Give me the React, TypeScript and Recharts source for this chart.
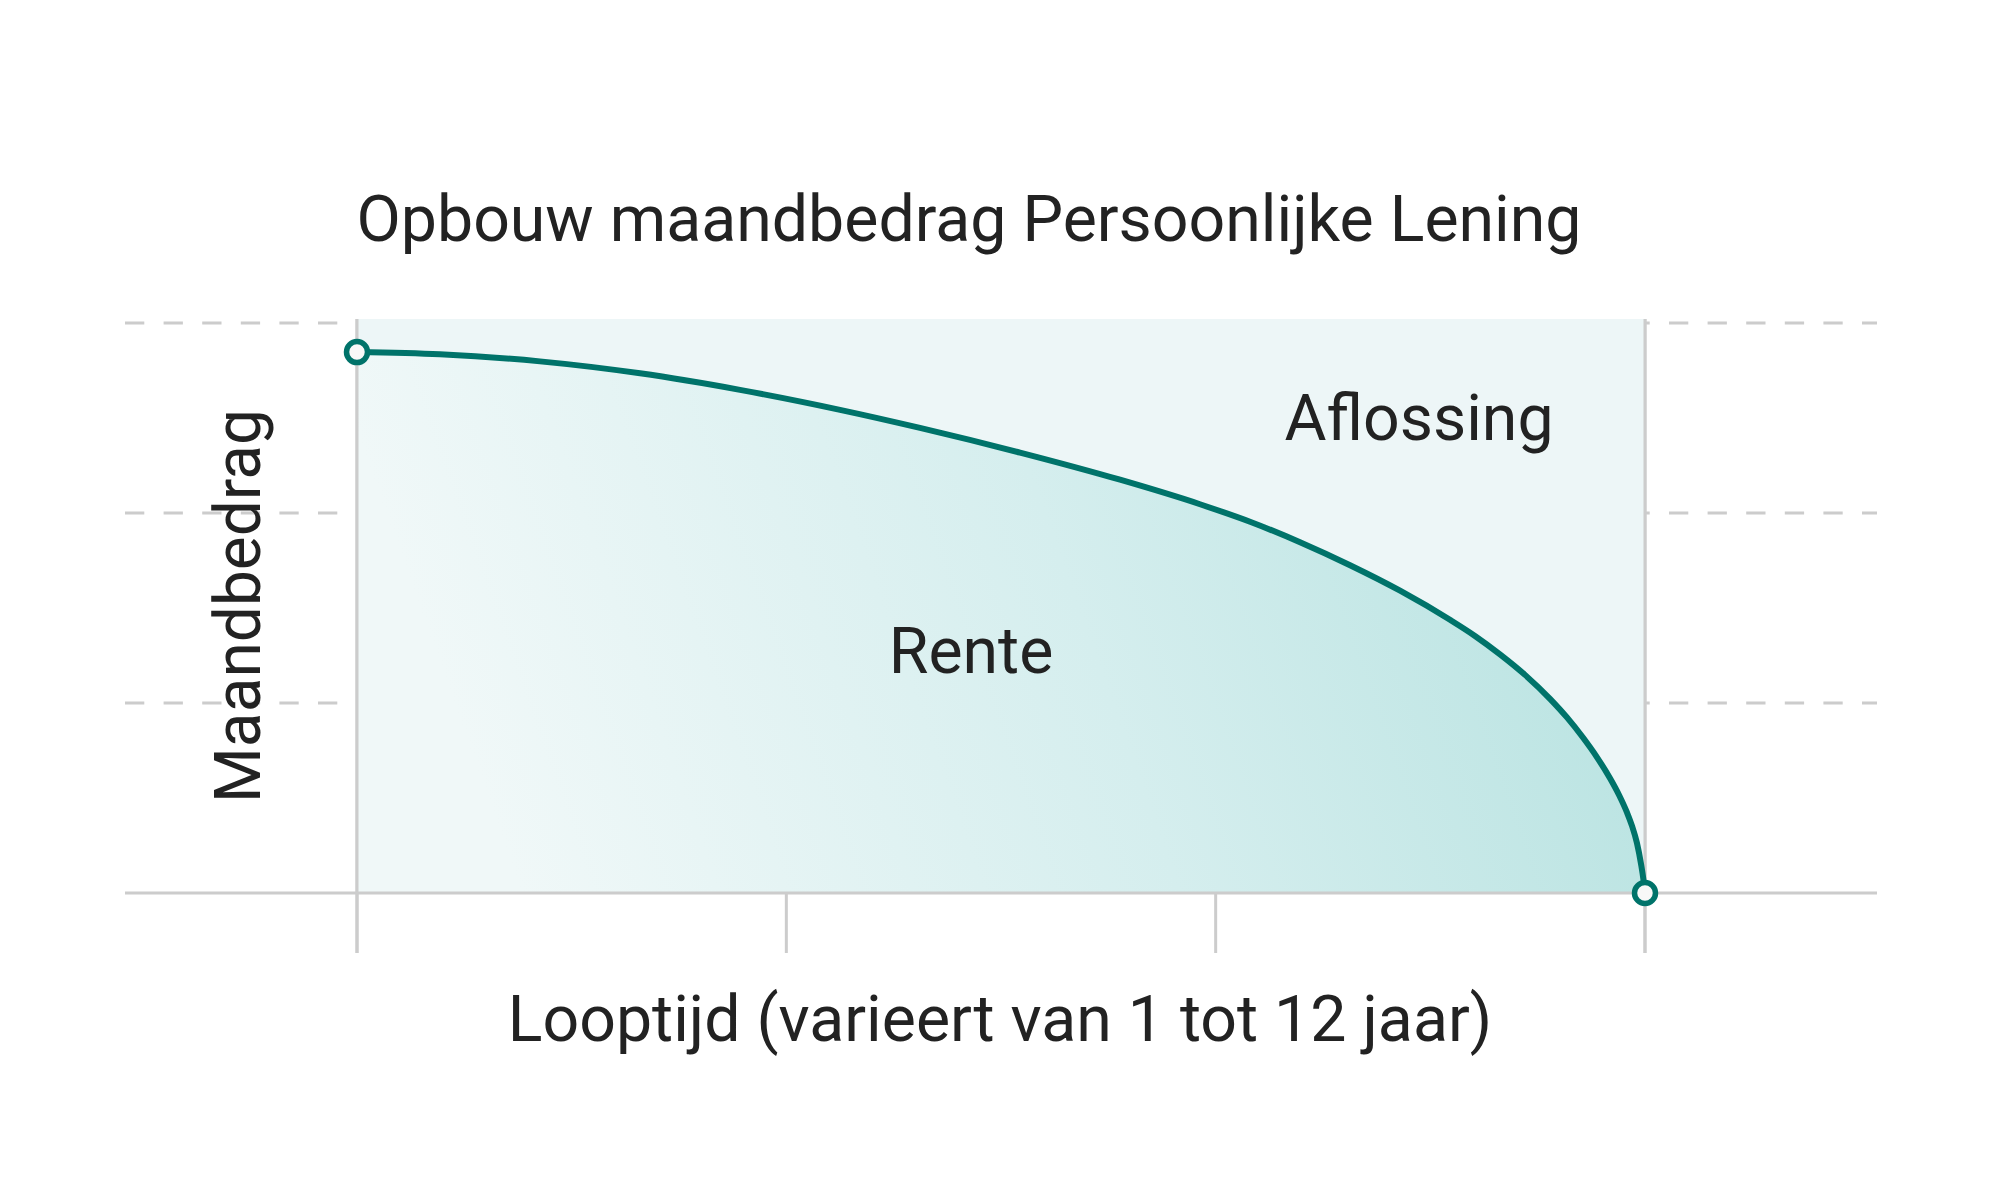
import { ComposedChart, Area, Line, XAxis, YAxis, CartesianGrid, ReferenceLine } from 'recharts'

// looptijd in jaren, rente in willekeurige eenheden (maandbedrag constant)
const LOOPTIJD = [0, 0.773, 1.705, 2.637, 3.568, 4.5, 5.245, 6.177, 7.109, 7.854, 8.32, 8.786, 9.252, 9.718, 10.183, 10.416, 10.649, 10.882, 11.115, 11.273, 11.422, 11.553, 11.674, 11.758, 11.832, 11.879, 11.925, 11.963, 11.986, 12]
const RENTE = [2.847, 2.835, 2.798, 2.735, 2.648, 2.543, 2.448, 2.318, 2.175, 2.046, 1.954, 1.846, 1.725, 1.591, 1.438, 1.353, 1.256, 1.148, 1.022, 0.924, 0.818, 0.714, 0.604, 0.516, 0.424, 0.353, 0.263, 0.153, 0.068, 0]
const MAANDBEDRAG = 3.021

const X_LINES = [0, 4, 8, 12]
const Y_DASHED = [1, 2, 3]

const TITLE = 'Opbouw maandbedrag Persoonlijke Lening'
const X_LABEL = 'Looptijd (varieert van 1 tot 12 jaar)'
const Y_LABEL = 'Maandbedrag'
const LABEL_RENTE = 'Rente'
const LABEL_AFLOSSING = 'Aflossing'

const TEAL = '#00736A'
const GRID = '#CCCCCC'
const INK = '#222222'
const FONT = 'Roboto, sans-serif'

const data = LOOPTIJD.map((x, i) => ({ x, rente: RENTE[i], totaal: MAANDBEDRAG }))

const endDot = (props: any) => {
  const { cx, cy, index } = props
  if (index !== 0 && index !== LOOPTIJD.length - 1) return <g key={`dot-${index}`} />
  return <circle key={`dot-${index}`} cx={cx} cy={cy} r={10.5} fill="#F8F8F8" stroke={TEAL} strokeWidth={5.5} />
}

export default function App() {
  return (
    <div style={{ position: 'absolute', left: 0, top: 0, width: 2000, height: 1200, background: '#fff' }}>
      <ComposedChart width={2000} height={1200} data={data} margin={{ top: 319, right: 123, bottom: 247, left: 125 }}>
        <defs>
          <linearGradient id="renteFill" x1="0" y1="0.15" x2="1" y2="0">
            <stop offset="0%" stopColor="#F0F8F8" />
            <stop offset="50%" stopColor="#D5EEEE" />
            <stop offset="100%" stopColor="#B4E1DF" />
          </linearGradient>
        </defs>
        <XAxis hide type="number" dataKey="x" domain={[-2.1615, 14.1615]} allowDataOverflow />
        <YAxis hide type="number" domain={[-0.3158, 3.021]} allowDataOverflow />
        <CartesianGrid vertical={false} horizontalValues={Y_DASHED} stroke={GRID} strokeWidth={3} strokeDasharray="19.3 19.3" />
        <CartesianGrid horizontal={false} verticalValues={X_LINES} stroke={GRID} strokeWidth={3} />
        <Area type="linear" dataKey="totaal" baseValue={0} stroke="none" fill="#EDF6F7" fillOpacity={1} dot={false} activeDot={false} isAnimationActive={false} />
        <Area type="monotone" dataKey="rente" baseValue={0} stroke="none" fill="url(#renteFill)" fillOpacity={1} dot={false} activeDot={false} isAnimationActive={false} />
        <ReferenceLine x={0} stroke={GRID} strokeWidth={3} zIndex={250} />
        <ReferenceLine x={12} stroke={GRID} strokeWidth={3} zIndex={250} />
        <ReferenceLine y={0} stroke={GRID} strokeWidth={3} zIndex={250} />
        <Line type="monotone" dataKey="rente" stroke={TEAL} strokeWidth={6} dot={endDot} activeDot={false} isAnimationActive={false} />
      </ComposedChart>
      <svg width={2000} height={1200} style={{ position: 'absolute', left: 0, top: 0, pointerEvents: 'none' }}>
        <g fontFamily={FONT} fill={INK} textAnchor="middle">
          <text x={969} y={241} fontSize={64.4}>{TITLE}</text>
          <text x={1419} y={440} fontSize={64.4}>{LABEL_AFLOSSING}</text>
          <text x={971} y={673} fontSize={64.4}>{LABEL_RENTE}</text>
          <text x={1000} y={1041} fontSize={64.4}>{X_LABEL}</text>
          <text x={260} y={606} fontSize={64} transform="rotate(-90, 260, 606)">{Y_LABEL}</text>
        </g>
      </svg>
    </div>
  )
}
